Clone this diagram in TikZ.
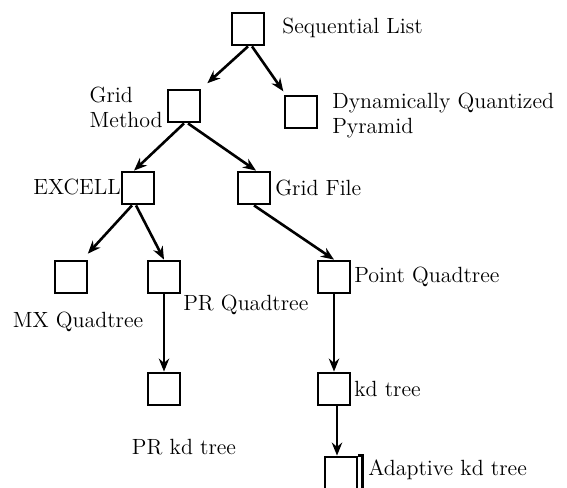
\documentclass[tikz,border=0pt]{standalone}
\usepackage{tikz}
\usetikzlibrary{positioning, arrows.meta}
\usepackage{xcolor}

\begin{document}
\begin{tikzpicture}[
                    % one unit is one pixel of the page, y runs downwards
                    x=0.5pt, y=-0.5pt,
                    every path/.style={color=black, line width=1.3pt},
                    every node/.style={color=black, font=\fontsize{11}{12.5}\selectfont}
                  ]
                  % --- Dimensions ---
                  \def\Box{16pt}     % side of a box

                  % --- Styles ---
                  \tikzstyle{cell}=[draw, line width=1.4pt, minimum size=\Box, inner sep=0pt]
                  \tikzstyle{edge}=[-{Stealth[length=6.5pt, width=5.2pt]}, line width=1.3pt]
                  \tikzstyle{lbl}=[inner sep=0pt, align=left]

                  \useasboundingbox (0,0) rectangle (567,487);

  % --- Boxes ---
  \node[cell] (seq)    at (248, 29) {};
  \node[cell] (gm)     at (184,106) {};
  \node[cell] (dqp)    at (301,112) {};
  \node[cell] (excell) at (138,188) {};
  \node[cell] (gf)     at (254,188) {};
  \node[cell] (mx)     at ( 71,277) {};
  \node[cell] (prq)    at (164,277) {};
  \node[cell] (pq)     at (334,277) {};
  \node[cell] (prkd)   at (164,389) {};
  \node[cell] (kd)     at (334,389) {};
  \node[cell] (akd)    at (341,473) {};
  % second line on the right of the last box
  \draw[line width=1.2pt] (akd.north east) -- ([xshift=2pt]akd.north east) -- ([xshift=2pt]akd.south east);

  % --- Labels ---
  \node[lbl, anchor=west] (lseq)    at (281, 28) {Sequential List};
  \node[lbl, anchor=east] (lgm)     at (164,107) {Grid\\Method};
  \node[lbl, anchor=west] (ldqp)    at (331,115) {Dynamically Quantized\\Pyramid};
  \node[lbl, anchor=east] (lexcell) at (122,187) {EXCELL};
  \node[lbl, anchor=west] (lgf)     at (274,188) {Grid File};
  \node[lbl]              (lmx)     at ( 78,322) {MX Quadtree};
  \node[lbl, anchor=west] (lprq)    at (182,305) {PR Quadtree};
  \node[lbl, anchor=west] (lpq)     at (353,277) {Point Quadtree};
  \node[lbl]              (lprkd)   at (184,447) {PR kd tree};
  \node[lbl, anchor=west] (lkd)     at (353,389) {kd tree};
  \node[lbl, anchor=west] (lakd)    at (367,470) {Adaptive kd tree};

  % --- Arrows ---
  \draw[edge, shorten >=4pt] (seq.south) -- (gm.north east);
  \draw[edge, shorten >=2pt] ([xshift=2pt]seq.south) -- ([xshift=1pt]dqp.north west);
  \draw[edge] (gm.south) -- ([xshift=-2pt]excell.north);
  \draw[edge] ([xshift=2pt]gm.south) -- ([xshift=1pt]gf.north);
  \draw[edge, shorten >=4pt] ([xshift=-3pt]excell.south) -- ([xshift=-3pt]mx.north east);
  \draw[edge] ([xshift=-1pt]excell.south) -- (prq.north);
  \draw[edge] (gf.south) -- (pq.north);
  \draw[edge] (prq.south) -- (prkd.north);
  \draw[edge] (pq.south) -- (kd.north);
  \draw[edge] ([xshift=1.5pt]kd.south) -- ([xshift=-2pt]akd.north);

\end{tikzpicture}
\end{document}
